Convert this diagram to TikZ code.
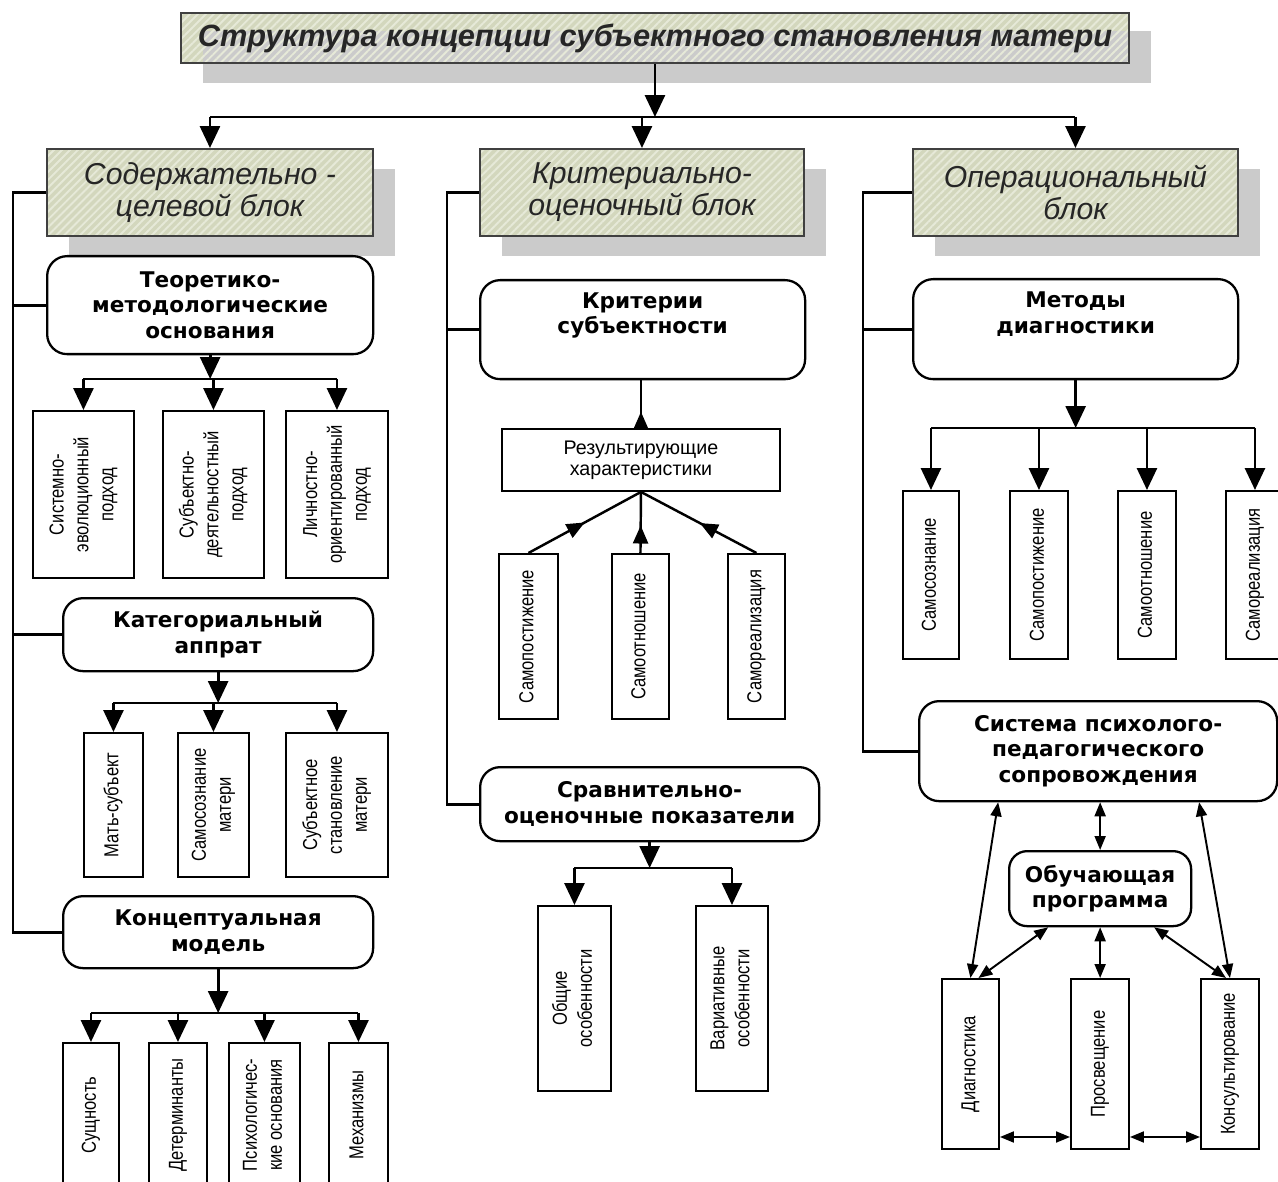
\documentclass[tikz,border=0pt]{standalone}
\usepackage{fontspec}
\usepackage{graphicx}
\setmainfont{Liberation Sans}
\newfontfamily\verdfont{DejaVu Sans}
\newfontfamily\narrowfont[FakeStretch=0.82]{Liberation Sans}
\usetikzlibrary{arrows.meta,positioning,calc,shadows,patterns.meta,decorations.markings}
\definecolor{hdrbase}{HTML}{D3D7BD}
\definecolor{hdrhatch}{HTML}{E6E9D8}
\definecolor{shadegray}{HTML}{CBCBCB}
\definecolor{textgray}{HTML}{262626}
\newlength{\px}\setlength{\px}{0.02cm}
\newcommand{\vtext}[1]{\rotatebox{90}{\begin{tabular}{@{}c@{}}#1\end{tabular}}}

\tikzset{
  sz/.style 2 args={minimum width=#1*\px, minimum height=#2*\px},
  hdrbox/.style={general shadow={fill=shadegray, shadow xshift=0.44cm, shadow yshift=-0.4cm},
    preaction={fill=hdrbase}, pattern={Lines[angle=45,distance=3.2pt,line width=1.1pt]},
    pattern color=hdrhatch, draw=black!75, line width=1.1pt, anchor=north west,
    inner sep=0pt, align=center, text=textgray},
  rbox/.style={draw, line width=1.3pt, rounded corners=0.4cm, fill=white, anchor=north west,
    inner sep=0pt, align=center, font=\verdfont\bfseries\fontsize{12.3}{14.5}\selectfont},
  vbox/.style={draw, line width=1.1pt, fill=white, anchor=north west, inner sep=0pt,
    font=\narrowfont\fontsize{11.5}{14.2}\selectfont},
  line/.style={line width=1.6pt},
  arr/.style={line width=1.6pt, -{Triangle[width=0.4cm,length=0.44cm]}},
  dbl/.style={line width=1.1pt, {Triangle[width=0.22cm,length=0.28cm]}-{Triangle[width=0.22cm,length=0.28cm]}},
  midarr/.style={line width=1.4pt, decoration={markings,
    mark=at position #1 with {\arrow{Triangle[width=0.3cm,length=0.36cm]}}}, postaction={decorate}}
}

\begin{document}
\begin{tikzpicture}[x=\px, y=-\px]
  \useasboundingbox (0,0) rectangle (1278,1182);
  \clip (0,0) rectangle (1278,1182);
  \fill[white] (0,0) rectangle (1278,1182);

  \node[hdrbox, sz={948}{50}, general shadow={fill=shadegray, shadow xshift=0.44cm, shadow yshift=-0.36cm},
    font=\bfseries\itshape\fontsize{17.5}{20}\selectfont] (title) at (180,12)
    {Структура концепции субъектного становления матери};

  \node[hdrbox, sz={326}{87}, font=\itshape\fontsize{17.2}{18.2}\selectfont] (hdrA) at (46,148) {Содержательно -\\целевой блок};
  \node[hdrbox, sz={324}{87}, font=\itshape\fontsize{17.2}{18.2}\selectfont] (hdrB) at (479,148) {Критериально-\\оценочный блок};
  \node[hdrbox, sz={325}{87}, font=\itshape\fontsize{17.2}{18.2}\selectfont] (hdrC) at (912,148) {Операциональный\\блок};

  \coordinate (jt) at (0,117);
  \draw[arr] (title.south) -- (title.south |- jt);
  \draw[line] (hdrA.north |- jt) -- (hdrC.north |- jt);
  \foreach \n in {hdrA,hdrB,hdrC}
    \draw[arr] (\n.north |- jt) -- (\n.north);

  % first column
  \node[rbox, sz={326}{98}] (teo) at (46,255) {Теоретико-\\методологические\\основания};
  \node[vbox, sz={101}{167}] (a1) at (32,410) {\vtext{Системно-\\эволюционный\\подход}};
  \node[vbox, sz={101}{167}] (a2) at (162,410) {\vtext{Субъектно-\\деятельностный\\подход}};
  \node[vbox, sz={102}{167}] (a3) at (285,410) {\vtext{Личностно-\\ориентированный\\подход}};
  \node[rbox, sz={310}{73}] (cat) at (62,597) {Категориальный\\аппрат};
  \node[vbox, sz={59}{144}] (b1) at (83,732) {\vtext{Мать-субъект}};
  \node[vbox, sz={71}{144}] (b2) at (177,732) {\vtext{Самосознание\\матери}};
  \node[vbox, sz={102}{144}] (b3) at (285,732) {\vtext{Субъектное\\становление\\матери}};
  \node[rbox, sz={310}{72}] (con) at (62,895) {Концептуальная\\модель};
  \node[vbox, sz={56}{144}] (c1) at (62,1042) {\vtext{Сущность}};
  \node[vbox, sz={58}{144}] (c2) at (148,1042) {\vtext{Детерминанты}};
  \node[vbox, sz={71}{144}] (c3) at (228,1042) {\vtext{Психологичес-\\кие основания}};
  \node[vbox, sz={59}{144}] (c4) at (328,1042) {\vtext{Механизмы}};

  \coordinate (busA) at (13,0);
  \draw[line] (hdrA.west) -| (busA |- con.west) -- (con.west);
  \foreach \n in {teo,cat}
    \draw[line] (\n.west) -- (\n.west -| busA);

  \coordinate (jteo) at (0,379);
  \draw[arr] (teo.south) -- (teo.south |- jteo);
  \draw[line] (a1.north |- jteo) -- (a3.north |- jteo);
  \foreach \n in {a1,a2,a3}
    \draw[arr] (\n.north |- jteo) -- (\n.north);

  \coordinate (jcat) at (0,703);
  \draw[arr] (cat.south) -- (cat.south |- jcat);
  \draw[line] (b1.north |- jcat) -- (b3.north |- jcat);
  \foreach \n in {b1,b2,b3}
    \draw[arr] (\n.north |- jcat) -- (\n.north);

  \coordinate (jcon) at (0,1013);
  \draw[arr] (con.south) -- (con.south |- jcon);
  \draw[line] (c1.north |- jcon) -- (c4.north |- jcon);
  \foreach \n in {c1,c2,c3,c4}
    \draw[arr] (\n.north |- jcon) -- (\n.north);

  % second column
  \node[rbox, sz={325}{99}] (crit) at (479,279) {Критерии\\субъектности\\\strut};
  \node[draw, line width=1.1pt, anchor=north west, inner sep=0pt, align=center, sz={278}{62},
    font=\fontsize{11.2}{12}\selectfont] (res) at (501,428) {Результирующие\\характеристики};
  \node[vbox, sz={59}{165}] (d1) at (498,553) {\vtext{Самопостижение}};
  \node[vbox, sz={57}{165}] (d2) at (611,553) {\vtext{Самоотношение}};
  \node[vbox, sz={57}{165}] (d3) at (727,553) {\vtext{Самореализация}};
  \node[rbox, sz={339}{74}] (cmp) at (479,766) {Сравнительно-\\оценочные показатели};
  \node[vbox, sz={73}{185}] (e1) at (537,905) {\vtext{Общие\\особенности}};
  \node[vbox, sz={72}{185}] (e2) at (695,905) {\vtext{Вариативные\\особенности}};

  \coordinate (busB) at (447,0);
  \draw[line] (hdrB.west) -| (busB |- cmp.west) -- (cmp.west);
  \draw[line] (crit.west) -- (crit.west -| busB);

  \draw[midarr=0.34] (res.north) -- (res.north |- crit.south);
  \foreach \n/\p in {d1/0.5,d2/0.45,d3/0.49}
    \draw[midarr=\p] (\n.north) -- (res.south);

  \coordinate (jcmp) at (0,868);
  \draw[arr] (cmp.south) -- (cmp.south |- jcmp);
  \draw[line] (e1.north |- jcmp) -- (e2.north |- jcmp);
  \foreach \n in {e1,e2}
    \draw[arr] (\n.north |- jcmp) -- (\n.north);

  % third column
  \node[rbox, sz={325}{100}] (meth) at (912,278) {Методы\\диагностики\\\strut};
  \node[vbox, sz={56}{168}] (f1) at (902,490) {\vtext{Самосознание}};
  \node[vbox, sz={58}{168}] (f2) at (1009,490) {\vtext{Самопостижение}};
  \node[vbox, sz={58}{168}] (f3) at (1117,490) {\vtext{Самоотношение}};
  \node[vbox, sz={58}{168}] (f4) at (1225,490) {\vtext{Самореализация}};
  \node[rbox, sz={358}{100}] (sys) at (918,700) {Система психолого-\\педагогического\\сопровождения};
  \node[rbox, sz={182}{75}, rounded corners=0.36cm] (edu) at (1008,850) {Обучающая\\программа};
  \node[vbox, sz={57}{170}] (g1) at (941,978) {\vtext{Диагностика}};
  \node[vbox, sz={58}{170}] (g2) at (1070,978) {\vtext{Просвещение}};
  \node[vbox, sz={58}{170}] (g3) at (1200,978) {\vtext{Консультирование}};

  \coordinate (busC) at (863,0);
  \draw[line] (hdrC.west) -| (busC |- sys.west) -- (sys.west);
  \draw[line] (meth.west) -- (meth.west -| busC);

  \coordinate (jmeth) at (0,428);
  \draw[arr] (meth.south) -- (meth.south |- jmeth);
  \draw[line] (f1.north |- jmeth) -- (f4.north |- jmeth);
  \foreach \n in {f1,f2,f3,f4}
    \draw[arr] (\n.north |- jmeth) -- (\n.north);

  \draw[dbl] (edu.north |- sys.south) -- (edu.north);
  \draw[dbl] (edu.south) -- (edu.south |- g2.north);
  \draw[dbl] ([xshift=-2cm]sys.south) -- (g1.north);
  \draw[dbl] ([xshift=2.02cm]sys.south) -- (g3.north);
  \draw[dbl] ([xshift=-1.04cm]edu.south) -- ([xshift=0.16cm]g1.north);
  \draw[dbl] ([xshift=1.08cm]edu.south) -- ([xshift=-0.08cm]g3.north);
  \coordinate (jlow) at (0,1137);
  \draw[dbl] (g1.east |- jlow) -- (g2.west |- jlow);
  \draw[dbl] (g2.east |- jlow) -- (g3.west |- jlow);
\end{tikzpicture}
\end{document}
